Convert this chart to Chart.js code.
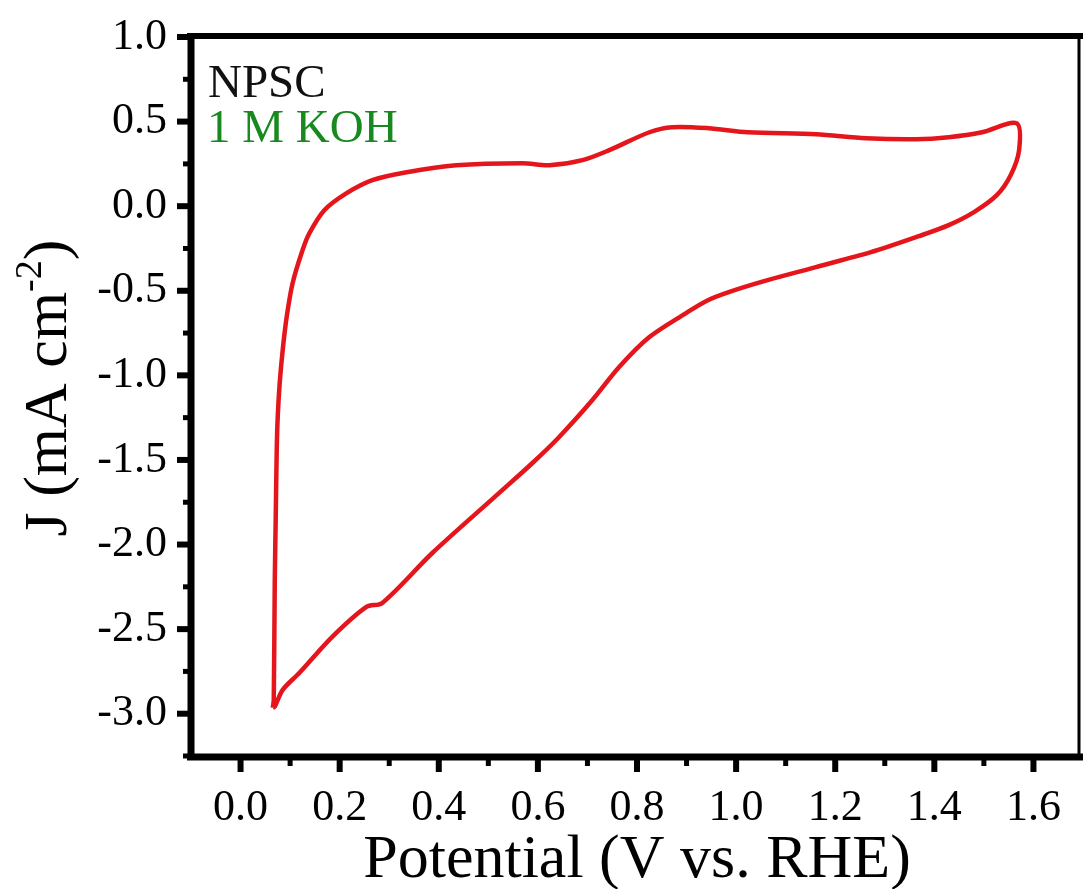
<!DOCTYPE html>
<html>
<head>
<meta charset="utf-8">
<title>NPSC CV in 1 M KOH</title>
<script src="https://cdn.jsdelivr.net/npm/chart.js@4.4.1/dist/chart.umd.min.js"></script>
<style>
  html, body { margin: 0; padding: 0; background: #fff; }
  #cv { display: block; }
</style>
</head>
<body>
<canvas id="cv" width="1083" height="889"></canvas>
<script>
// CV loop: potential (V vs. RHE) and current density (mA cm-2)
// anodic sweep first (bottom-left up and across the top), then back along the bottom
var potential = [
  0.065, 0.067, 0.069, 0.071, 0.073, 0.075, 0.079, 0.085, 0.093, 0.105,
  0.125, 0.139, 0.169, 0.214, 0.266, 0.335, 0.435, 0.569, 0.623, 0.690,
  0.744, 0.825, 0.871, 0.944, 1.024, 1.161, 1.262, 1.363, 1.429, 1.496,
  1.566,
  1.571, 1.554, 1.526, 1.480, 1.429, 1.369, 1.272, 1.161, 1.060, 0.985,
  0.940, 0.899, 0.825, 0.764, 0.710, 0.643, 0.589, 0.522, 0.387, 0.286,
  0.254, 0.185, 0.119, 0.085, 0.069, 0.065
];
var currentDensity = [
  -2.965, -2.918, -2.227, -1.837, -1.441, -1.246, -1.045, -0.851, -0.656, -0.455,
  -0.260, -0.159, -0.024, 0.077, 0.154, 0.201, 0.242, 0.254, 0.242, 0.272,
  0.331, 0.437, 0.467, 0.461, 0.437, 0.425, 0.402, 0.396, 0.408, 0.437,
  0.490,
  0.331, 0.183, 0.065, -0.035, -0.112, -0.177, -0.272, -0.360, -0.440, -0.508,
  -0.560, -0.632, -0.774, -0.951, -1.146, -1.364, -1.518, -1.695, -2.050, -2.345,
  -2.369, -2.546, -2.758, -2.859, -2.959, -2.965
];

// tick labels
var xTicks = [0.0, 0.2, 0.4, 0.6, 0.8, 1.0, 1.2, 1.4, 1.6];
var yTicks = [1.0, 0.5, 0.0, -0.5, -1.0, -1.5, -2.0, -2.5, -3.0];

var serif = '"Liberation Serif", "Times New Roman", serif';

var points = [];
for (var i = 0; i < potential.length; i++) {
  points.push({ x: potential[i], y: currentDensity[i] });
}

// frame, tick marks, axis titles and the two labels in the corner
var framePlugin = {
  id: 'frame',
  afterDraw: function(chart) {
    var ctx = chart.ctx;
    var area = chart.chartArea;
    var xs = chart.scales.x;
    var ys = chart.scales.y;
    ctx.save();
    ctx.strokeStyle = '#000';
    ctx.lineCap = 'butt';

    // minor ticks sit half way between the major ones
    var xMinor = [];
    for (var i = 0; i < xTicks.length - 1; i++) xMinor.push((xTicks[i] + xTicks[i + 1]) / 2);
    var yMinor = [];
    for (var j = 0; j < yTicks.length - 1; j++) yMinor.push((yTicks[j] + yTicks[j + 1]) / 2);
    yMinor.push(yTicks[yTicks.length - 1] - 0.25);

    // bottom ticks
    xTicks.forEach(function(v) {
      var px = xs.getPixelForValue(v);
      ctx.lineWidth = 6;
      ctx.beginPath(); ctx.moveTo(px, area.bottom); ctx.lineTo(px, area.bottom + 16); ctx.stroke();
    });
    xMinor.forEach(function(v) {
      var px = xs.getPixelForValue(v);
      ctx.lineWidth = 5;
      ctx.beginPath(); ctx.moveTo(px, area.bottom); ctx.lineTo(px, area.bottom + 10); ctx.stroke();
    });
    // left ticks
    yTicks.forEach(function(v) {
      var py = ys.getPixelForValue(v);
      ctx.lineWidth = 6;
      ctx.beginPath(); ctx.moveTo(area.left, py); ctx.lineTo(area.left - 14, py); ctx.stroke();
    });
    yMinor.forEach(function(v) {
      var py = ys.getPixelForValue(v);
      ctx.lineWidth = 5;
      ctx.beginPath(); ctx.moveTo(area.left, py); ctx.lineTo(area.left - 8, py); ctx.stroke();
    });

    // axis lines
    ctx.lineWidth = 7;
    ctx.beginPath(); ctx.moveTo(area.left, area.top - 4); ctx.lineTo(area.left, area.bottom + 4); ctx.stroke();
    ctx.beginPath(); ctx.moveTo(area.left - 4, area.bottom + 1); ctx.lineTo(area.right, area.bottom + 1); ctx.stroke();
    ctx.lineWidth = 6;
    ctx.beginPath(); ctx.moveTo(area.left - 4, area.top - 1); ctx.lineTo(area.right, area.top - 1); ctx.stroke();
    ctx.lineWidth = 3;
    ctx.beginPath(); ctx.moveTo(area.right - 4, area.top - 1); ctx.lineTo(area.right - 4, area.bottom + 1); ctx.stroke();

    // x title
    ctx.fillStyle = '#000';
    ctx.textBaseline = 'alphabetic';
    ctx.textAlign = 'center';
    ctx.font = '62px ' + serif;
    ctx.fillText('Potential (V vs. RHE)', (area.left + area.right) / 2, 877);

    // y title with superscript
    ctx.save();
    ctx.translate(66, 388);
    ctx.rotate(-Math.PI / 2);
    ctx.textAlign = 'left';
    var mainFont = '62px ' + serif;
    var supFont = '38px ' + serif;
    ctx.font = mainFont;
    var w1 = ctx.measureText('J (mA cm').width;
    var w3 = ctx.measureText(')').width;
    ctx.font = supFont;
    var w2 = ctx.measureText('-2').width;
    var x0 = -(w1 + w2 + w3) / 2;
    ctx.font = mainFont;
    ctx.fillText('J (mA cm', x0, 0);
    ctx.font = supFont;
    ctx.fillText('-2', x0 + w1, -25);
    ctx.font = mainFont;
    ctx.fillText(')', x0 + w1 + w2, 0);
    ctx.restore();

    // sample and electrolyte
    ctx.textAlign = 'left';
    ctx.font = '47px ' + serif;
    ctx.fillStyle = '#111';
    ctx.fillText('NPSC', 208, 97);
    ctx.fillStyle = '#17891f';
    ctx.fillText('1 M KOH', 207, 142);
    ctx.restore();
  }
};

var cvChart = new Chart(document.getElementById('cv').getContext('2d'), {
  type: 'scatter',
  data: {
    datasets: [{
      label: 'NPSC',
      data: points,
      showLine: true,
      borderColor: 'rgb(228, 22, 28)',
      backgroundColor: 'rgb(228, 22, 28)',
      borderWidth: 4.5,
      pointRadius: 0,
      tension: 0.3,
      fill: false
    }]
  },
  options: {
    responsive: false,
    animation: false,
    devicePixelRatio: 1,
    layout: { padding: { top: 37, right: 0, left: 0, bottom: 0 } },
    plugins: {
      legend: { display: false },
      tooltip: { enabled: false }
    },
    scales: {
      x: {
        type: 'linear',
        min: -0.1,
        max: 1.7,
        afterBuildTicks: function(scale) {
          scale.ticks = xTicks.map(function(v) { return { value: v }; });
        },
        afterFit: function(scale) {
          scale.height = 889 - 756;
          scale.paddingLeft = 0;
          scale.paddingRight = 0;
        },
        ticks: {
          autoSkip: false,
          maxRotation: 0,
          padding: 26,
          color: '#000',
          font: { family: serif, size: 44 },
          callback: function(v) { return Number(v).toFixed(1); }
        },
        grid: { display: false, drawTicks: false },
        border: { display: false }
      },
      y: {
        type: 'linear',
        min: -3.25,
        max: 1.0,
        afterBuildTicks: function(scale) {
          scale.ticks = yTicks.map(function(v) { return { value: v }; });
        },
        afterFit: function(scale) {
          scale.width = 191;
          scale.paddingTop = 0;
          scale.paddingBottom = 0;
        },
        ticks: {
          autoSkip: false,
          padding: 24,
          color: '#000',
          font: { family: serif, size: 44 },
          callback: function(v) { return Number(v).toFixed(1); }
        },
        grid: { display: false, drawTicks: false },
        border: { display: false }
      }
    }
  },
  plugins: [framePlugin]
});
</script>
</body>
</html>
